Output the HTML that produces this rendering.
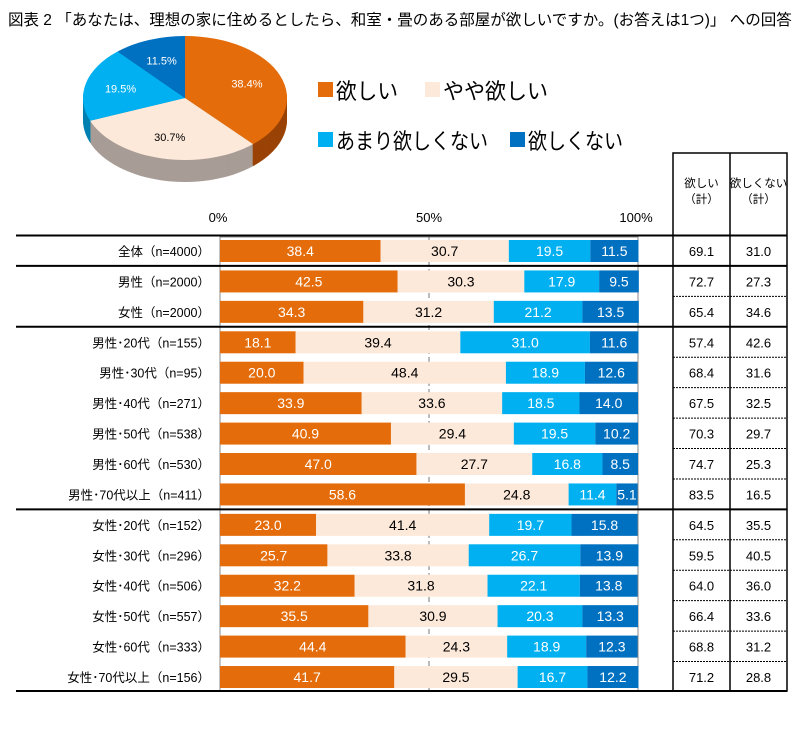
<!DOCTYPE html>
<html><head><meta charset="utf-8"><style>
body{margin:0;background:#fff;}
svg{display:block;font-family:"Liberation Sans","Noto Sans CJK JP",sans-serif;}
</style></head><body>
<svg id="c" width="810" height="732" xmlns="http://www.w3.org/2000/svg">
<text x="8" y="25" font-size="15.5" fill="#000">図表 2 「あなたは、理想の家に住めるとしたら、和室・畳のある部屋が欲しいですか。(お答えは1つ)」 への回答</text>
<g id="pie"></g>
<g id="legend"></g>
<g id="bars"></g>
</svg>
<script>
const categories=["全体（n=4000）","男性（n=2000）","女性（n=2000）","男性･20代（n=155）","男性･30代（n=95）","男性･40代（n=271）","男性･50代（n=538）","男性･60代（n=530）","男性･70代以上（n=411）","女性･20代（n=152）","女性･30代（n=296）","女性･40代（n=506）","女性･50代（n=557）","女性･60代（n=333）","女性･70代以上（n=156）"];
const want=[38.4,42.5,34.3,18.1,20.0,33.9,40.9,47.0,58.6,23.0,25.7,32.2,35.5,44.4,41.7];
const somewhat=[30.7,30.3,31.2,39.4,48.4,33.6,29.4,27.7,24.8,41.4,33.8,31.8,30.9,24.3,29.5];
const notMuch=[19.5,17.9,21.2,31.0,18.9,18.5,19.5,16.8,11.4,19.7,26.7,22.1,20.3,18.9,16.7];
const notWant=[11.5,9.5,13.5,11.6,12.6,14.0,10.2,8.5,5.1,15.8,13.9,13.8,13.3,12.3,12.2];
const wantTotal=[69.1,72.7,65.4,57.4,68.4,67.5,70.3,74.7,83.5,64.5,59.5,64.0,66.4,68.8,71.2];
const notTotal=[31.0,27.3,34.6,42.6,31.6,32.5,29.7,25.3,16.5,35.5,40.5,36.0,33.6,31.2,28.8];
const pieValues=[38.4,30.7,19.5,11.5];
const seriesNames=["欲しい","やや欲しい","あまり欲しくない","欲しくない"];
const axisTicks=[0,50,100];

const NS="http://www.w3.org/2000/svg";
const colors=["#E46C0A","#FDE9D9","#00B0F0","#0070C0"];
const sideColors=["#9A4306","#A89C96","#0080B0","#004F88"];
const textColors=["#fff","#000","#fff","#fff"];
function mk(tag,attrs,parent){const e=document.createElementNS(NS,tag);for(const k in attrs)e.setAttribute(k,attrs[k]);parent.appendChild(e);return e;}

// pie
const pie=document.getElementById('pie');
const cx=185,cy=98,rx=102,ry=62,depth=22;
const tot=pieValues.reduce((a,b)=>a+b,0);
function pt(a,oy){return [cx+rx*Math.sin(a),cy+oy-ry*Math.cos(a)];}
function slicePath(a0,a1,oy){const p0=pt(a0,oy),p1=pt(a1,oy);const large=(a1-a0)>Math.PI?1:0;return `M${cx},${cy+oy}L${p0[0]},${p0[1]}A${rx},${ry} 0 ${large} 1 ${p1[0]},${p1[1]}Z`;}
for(let d=depth;d>=1;d--){let a=0;pieValues.forEach((v,i)=>{const a1=a+v/tot*2*Math.PI;mk('path',{d:slicePath(a,a1,d),fill:sideColors[i]},pie);a=a1;});}
{let a=0;pieValues.forEach((v,i)=>{const a1=a+v/tot*2*Math.PI;
const s=mk('path',{d:slicePath(a,a1,0),fill:colors[i]},pie);


const m=(a+a1)/2;const lp=[cx+rx*0.65*Math.sin(m),cy-ry*0.65*Math.cos(m)+4];
const t=mk('text',{x:lp[0],y:lp[1],'font-size':11,'text-anchor':'middle',fill:i==1?'#000':'#fff'},pie);t.textContent=v.toFixed(1)+'%';


a=a1;});}

// legend
const lg=document.getElementById('legend');
const lpos=[[318,98],[425,98],[318,148],[510,148]];
const lw=[62,105,152,95];
seriesNames.forEach((n,i)=>{const g=mk('g',{},lg);


mk('rect',{x:lpos[i][0],y:lpos[i][1]-16,width:15,height:15,fill:colors[i]},g);
const t=mk('text',{x:lpos[i][0]+18,y:lpos[i][1]+1,'font-size':22,fill:'#000',textLength:lw[i],lengthAdjust:'spacingAndGlyphs'},g);t.textContent=n;});

// bars
const B=document.getElementById('bars');
const x0=220,x1=638,xs=v=>x0+(x1-x0)*v/100;
const rowY=i=>251+i*30.43;
axisTicks.forEach(v=>{const t=mk('text',{x:xs(v)+(v==0?-2:v==100?-2:0),y:222,'font-size':13,'text-anchor':'middle'},B);t.textContent=v+'%';

});
// table box
mk('rect',{x:673,y:153,width:114,height:538,fill:'none',stroke:'#000','stroke-width':1.5},B);
mk('line',{x1:730,y1:153,x2:730,y2:691,stroke:'#000','stroke-width':1.5},B);
[["欲しい",673],["欲しくない",730]].forEach(([s,x])=>{const t=mk('text',{x:x+28.5,y:187,'font-size':11.5,'text-anchor':'middle'},B);t.textContent=s;const t2=mk('text',{x:x+28.5,y:203,'font-size':11.5,'text-anchor':'middle'},B);t2.textContent='（計）';});
// chart frame
mk('line',{x1:x0,y1:235,x2:x1,y2:235,stroke:'#888','stroke-width':1},B);
mk('line',{x1:x0,y1:237,x2:x1,y2:237,stroke:'#888','stroke-width':1},B);
mk('line',{x1:x0,y1:235,x2:x0,y2:691,stroke:'#888','stroke-width':1},B);
mk('line',{x1:x1,y1:235,x2:x1,y2:691,stroke:'#888','stroke-width':1},B);
mk('line',{x1:xs(50),y1:237,x2:xs(50),y2:691,stroke:'#777','stroke-width':1,'stroke-dasharray':'5,3'},B);
const groupBreak=[0,1,3,9];
categories.forEach((c,i)=>{const y=rowY(i);
const lab=mk('text',{x:210,y:y+5,'font-size':12.5,'text-anchor':'end'},B);lab.textContent=c;


let acc=0;[want,somewhat,notMuch,notWant].forEach((arr,k)=>{const v=arr[i];
const r=mk('rect',{x:xs(acc),y:y-11,width:xs(acc+v)-xs(acc),height:22,fill:colors[k]},B);


const t=mk('text',{x:(xs(acc)+xs(acc+v))/2,y:y+5,'font-size':14,'text-anchor':'middle',fill:textColors[k]},B);t.textContent=v.toFixed(1);
acc+=v;});
const t1=mk('text',{x:701.5,y:y+5,'font-size':13,'text-anchor':'middle'},B);t1.textContent=wantTotal[i].toFixed(1);


const t2=mk('text',{x:758.5,y:y+5,'font-size':13,'text-anchor':'middle'},B);t2.textContent=notTotal[i].toFixed(1);


const top=y-15.5;
if(groupBreak.includes(i)){mk('line',{x1:16,y1:top,x2:787,y2:top,stroke:'#000','stroke-width':2},B);}
else{mk('line',{x1:673,y1:top,x2:787,y2:top,stroke:'#000','stroke-width':1,'stroke-dasharray':'2,1'},B);}
});
mk('line',{x1:16,y1:691,x2:787,y2:691,stroke:'#000','stroke-width':2},B);
</script>
</body></html>
